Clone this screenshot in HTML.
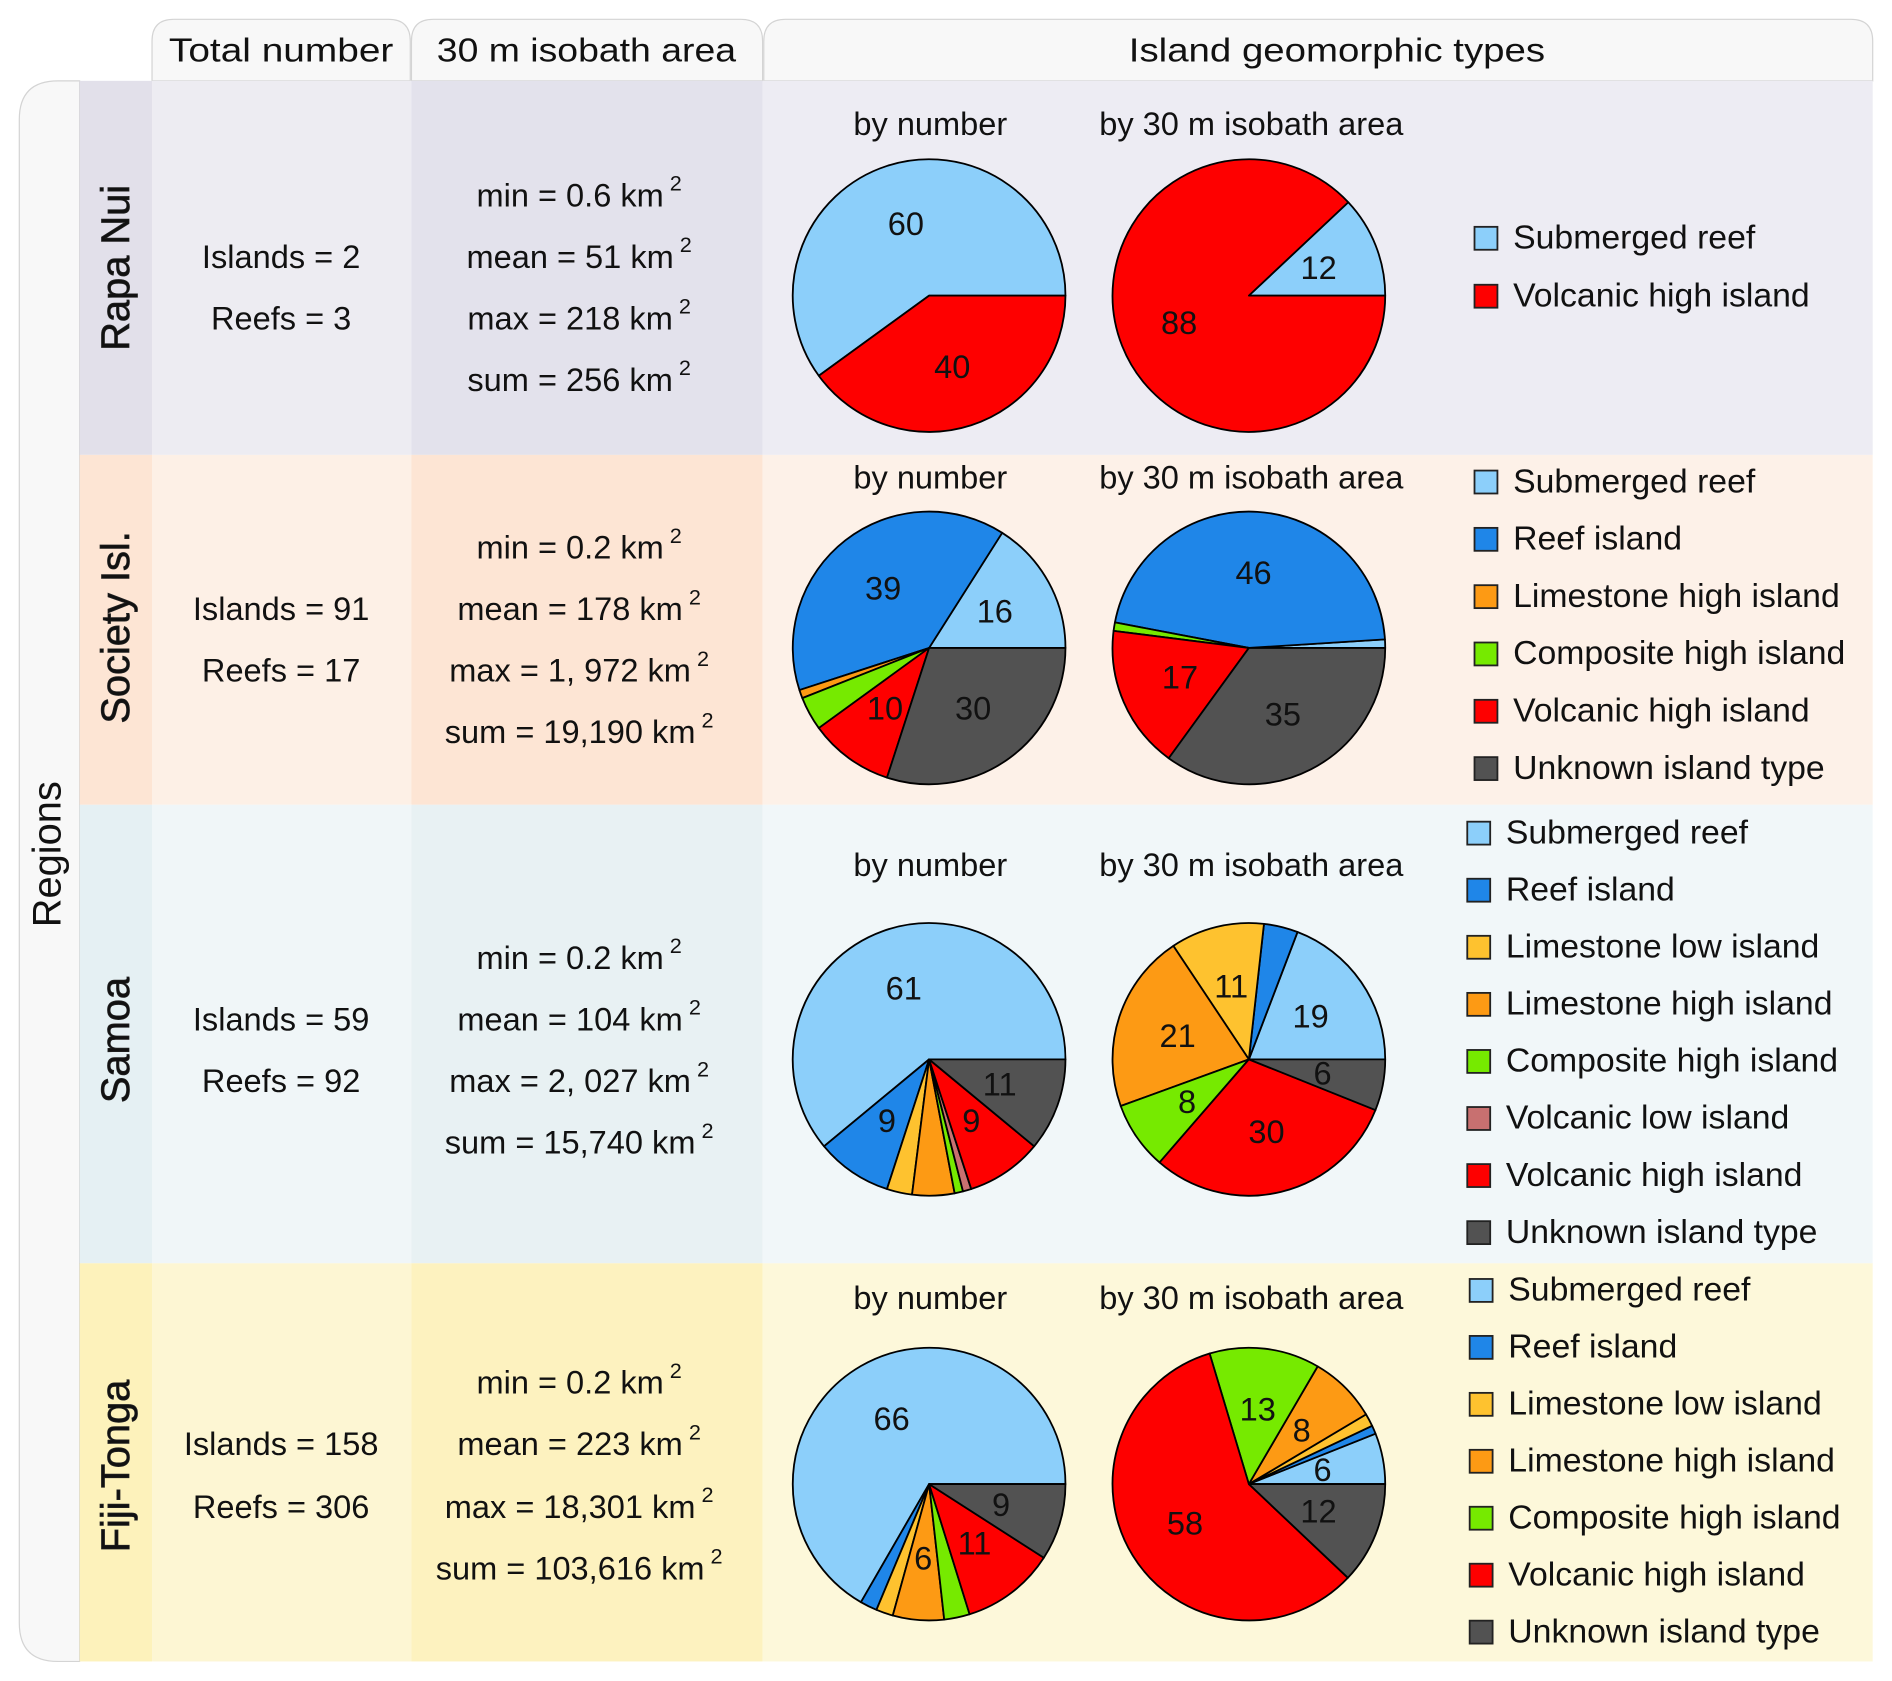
<!DOCTYPE html>
<html><head><meta charset="utf-8">
<style>
html,body{margin:0;padding:0;background:#fff;}
svg{display:block;}
text{font-family:"Liberation Sans",sans-serif;fill:#111;}
</style></head>
<body>
<svg id="fig" width="1892" height="1681" viewBox="0 0 1568 1393.2" preserveAspectRatio="none" xmlns="http://www.w3.org/2000/svg">
<g id="bg">
  <path d="M126,67 V34 Q126,16 144,16 H322 Q340,16 340,34 V67 Z" fill="#f8f8f8" stroke="#d4d4d4" stroke-width="1"/>
  <path d="M341,67 V34 Q341,16 359,16 H614 Q632,16 632,34 V67 Z" fill="#f8f8f8" stroke="#d4d4d4" stroke-width="1"/>
  <path d="M633,67 V34 Q633,16 651,16 H1534 Q1552,16 1552,34 V67 Z" fill="#f8f8f8" stroke="#d4d4d4" stroke-width="1"/>
  <path d="M66,67 H48 Q16,67 16,99 V1345 Q16,1377 48,1377 H66 Z" fill="#f8f8f8" stroke="#d4d4d4" stroke-width="1"/>
  <text x="233" y="51" font-size="28" text-anchor="middle" textLength="186" lengthAdjust="spacingAndGlyphs">Total number</text>
  <text x="486" y="51" font-size="28" text-anchor="middle" textLength="248" lengthAdjust="spacingAndGlyphs">30 m isobath area</text>
  <text x="1108" y="51" font-size="28" text-anchor="middle" textLength="345" lengthAdjust="spacingAndGlyphs">Island geomorphic types</text>
  <text transform="translate(50,708) rotate(-90)" font-size="33" text-anchor="middle">Regions</text>
</g>
<g id="rows"></g>
</svg>
<script>
const NS='http://www.w3.org/2000/svg';
const categories=['Submerged reef','Reef island','Limestone low island','Limestone high island','Composite high island','Volcanic low island','Volcanic high island','Unknown island type'];
const catColors=['#8ccffa','#1f86e8','#fec22f','#fd9a14','#76ea00','#c87070','#fe0000','#525252'];
const regionNames=['Rapa Nui','Society Isl.','Samoa','Fiji-Tonga'];
const islandsCount=[2,91,59,158];
const reefsCount=[3,17,92,306];
const areaMin=['0.6','0.2','0.2','0.2'];
const areaMean=['51','178','104','223'];
const areaMax=['218','1, 972','2, 027','18,301'];
const areaSum=['256','19,190','15,740','103,616'];
// values per category (order of categories)
const byNumber=[
  [60,0,0,0,0,0,40,0],
  [16,39,0,1,4,0,10,30],
  [61,9,3,5,1,1,9,11],
  [66,2,2,6,3,0,11,9]
];
const byArea=[
  [12,0,0,0,0,0,88,0],
  [1,46,0,0,1,0,17,35],
  [19,4,11,21,8,0,30,6],
  [6,1,1.5,8,13,0,58,12]
];
const numLabels=[['60','','','','','','40',''],['16','39','','','','','10','30'],['61','9','','','','','9','11'],['66','','','6','','','11','9']];
const areaLabels=[['12','','','','','','88',''],['','46','','','','','17','35'],['19','','11','21','8','','30','6'],['6','','','8','13','','58','12']];
const legendCats=[[0,6],[0,1,3,4,6,7],[0,1,2,3,4,5,6,7],[0,1,2,3,4,6,7]];

// layout
const rowTop=[67,377,667,1047], rowBot=[377,667,1047,1377];
const rowColors=[
  ['#e2e0ea','#edecf2','#e3e2ec','#edecf3'],
  ['#fde5d4','#fdf0e6','#fde5d4','#fdf1e8'],
  ['#e5f0f3','#f0f6f8','#e8f1f3','#f1f7f9'],
  ['#fdf2bb','#fdf6d3','#fdf2bf','#fdf8da']
];
const colX=[66,126,341,632,1552];
const pieCY=[245,537,878,1230];
const titleY=[103,396,717,1076];
const textY=[[162,213,264,315],[454,505,556,607],[794,845,896,947],[1146,1197,1249,1300]];
const legendStart=[196,398,689,1068], legendStep=[48,47.5,47.3,47.2];
const legendX=[1222,1222,1216,1218];
const pieX=[770,1035], R=113;

const root=document.getElementById('rows');
function mk(tag,attrs,parent){const e=document.createElementNS(NS,tag);for(const k in attrs)e.setAttribute(k,attrs[k]);(parent||root).appendChild(e);return e;}
function slug(s){return s.toLowerCase().replace(/[^a-z0-9]+/g,'-').replace(/-$/,'');}

function drawPie(g,cx,cy,vals,labels,name){
  const tot=vals.reduce((a,b)=>a+b,0);
  let a0=0;
  vals.forEach((v,i)=>{
    if(v<=0)return;
    const a1=a0+v/tot*2*Math.PI;
    const x0=cx+R*Math.cos(a0), y0=cy-R*Math.sin(a0);
    const x1=cx+R*Math.cos(a1), y1=cy-R*Math.sin(a1);
    const large=(a1-a0)>Math.PI?1:0;
    let p;
    if(v>=tot){p=mk('circle',{cx:cx,cy:cy,r:R,fill:catColors[i],stroke:'#000','stroke-width':1.5},g);}
    else p=mk('path',{d:`M${cx},${cy} L${x0},${y0} A${R},${R} 0 ${large} 0 ${x1},${y1} Z`,fill:catColors[i],stroke:'#000','stroke-width':1.5,'stroke-linejoin':'round'},g);
    
    
    const lab=labels[i];
    if(lab){
      const am=(a0+a1)/2, f=0.55;
      const t=mk('text',{x:cx+f*R*Math.cos(am),y:cy-f*R*Math.sin(am)+9,'font-size':27,'text-anchor':'middle'},g);
      t.textContent=lab;
      
      
    }
    a0=a1;
  });
}

regionNames.forEach((rn,r)=>{
  const g=mk('g',{});
  
  
  for(let c=0;c<4;c++){
    const rc=mk('rect',{x:colX[c],y:rowTop[r],width:colX[c+1]-colX[c],height:rowBot[r]-rowTop[r],fill:rowColors[r][c]},g);
    
    
  }
  const rl=mk('text',{transform:`translate(107,${r===0?222:r===1?520:r===2?862:1215}) rotate(-90)`,'font-size':33,'text-anchor':'middle','fill':'#222','stroke':'#222','stroke-width':0.6},g);
  rl.textContent=rn;
  
  
  const t1=mk('text',{x:233,y:textY[r][1]+9,'font-size':27,'text-anchor':'middle'},g);
  t1.textContent='Islands = '+islandsCount[r];
  
  
  const t2=mk('text',{x:233,y:textY[r][2]+9,'font-size':27,'text-anchor':'middle'},g);
  t2.textContent='Reefs = '+reefsCount[r];
  
  
  const stats=[['min = ',areaMin[r]],['mean = ',areaMean[r]],['max = ',areaMax[r]],['sum = ',areaSum[r]]];
  stats.forEach((s,k)=>{
    const t=mk('text',{x:480,y:textY[r][k]+9,'font-size':27,'text-anchor':'middle'},g);
    t.textContent=s[0]+s[1]+' km';
    const sup=mk('tspan',{dy:-13,'font-size':18},t);
    sup.textContent=' 2';
    
    
  });
  const tn=mk('text',{x:771,y:titleY[r]+9,'font-size':27,'text-anchor':'middle'},g);
  tn.textContent='by number';
  
  
  const ta=mk('text',{x:1037,y:titleY[r]+9,'font-size':27,'text-anchor':'middle'},g);
  ta.textContent='by 30 m isobath area';
  
  
  const pg1=mk('g',{},g);
  
  
  drawPie(pg1,pieX[0],pieCY[r],byNumber[r],numLabels[r],slug(rn)+'-by-number');
  const pg2=mk('g',{},g);
  
  
  drawPie(pg2,pieX[1],pieCY[r],byArea[r],areaLabels[r],slug(rn)+'-by-area');
  legendCats[r].forEach((ci,k)=>{
    const ly=legendStart[r]+k*legendStep[r];
    const lg=mk('g',{},g);
    
    
    mk('rect',{x:legendX[r],y:ly-8,width:19,height:19,fill:catColors[ci],stroke:'#222','stroke-width':1.5},lg);
    const lt=mk('text',{x:legendX[r]+32,y:ly+10,'font-size':28},lg);
    lt.textContent=categories[ci];
  });
});
</script>
</body></html>
